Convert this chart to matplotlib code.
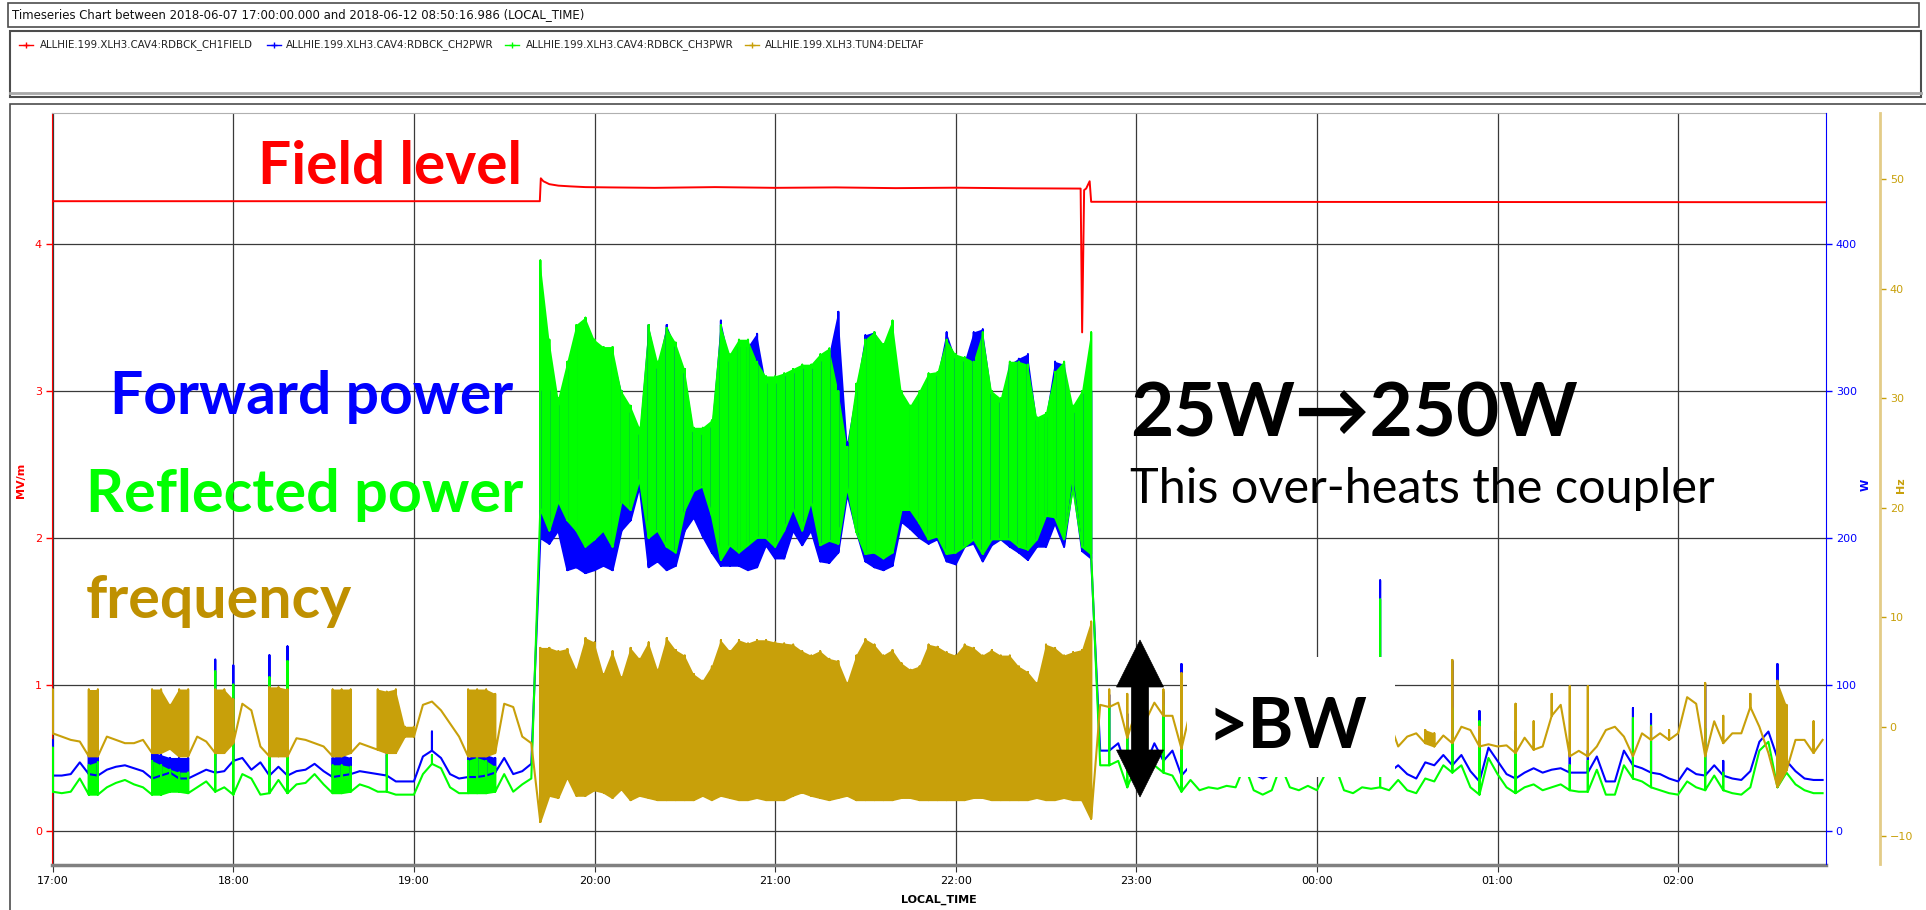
import numpy as np
import pandas as pd
import matplotlib
matplotlib.use("Agg")
import matplotlib.pyplot as plt
import matplotlib.dates as mdates
from matplotlib.patches import Rectangle, Polygon
from matplotlib.lines import Line2D
from matplotlib import font_manager

# ---------------------------------------------------------------- data
TITLE = "Timeseries Chart between 2018-06-07 17:00:00.000 and 2018-06-12 08:50:16.986 (LOCAL_TIME)"
SERIES_NAMES = ["ALLHIE.199.XLH3.CAV4:RDBCK_CH1FIELD",
                "ALLHIE.199.XLH3.CAV4:RDBCK_CH2PWR",
                "ALLHIE.199.XLH3.CAV4:RDBCK_CH3PWR",
                "ALLHIE.199.XLH3.TUN4:DELTAF"]
SAMPLE_START = "2018-06-07 17:00"
SAMPLE_STEP = "3min"

# value per 3-minute sample; a tuple (low, high) = range swept inside that sample
fwd_power_w = [
    (38, 62), 38, 39, 47, (39, 52), (38, 53), 42, 44, 45, 43,
    41, (36, 54), (38, 52), (40, 50), (36, 50), (36, 50), 39, 42, (40, 117), 41,
    (48, 113), 50, 42, 47, (38, 120), 44, (38, 126), 41, 42, 46,
    41, (37, 50), (38, 52), (39, 50), 41, 40, 39, (38, 61), 34, 34,
    34, 51, (55, 68), 50, 39, 36, (37, 50), (37, 52), (38, 52), (40, 50),
    50, 39, 41, 46, (200, 300), (196, 300), (205, 290), (178, 315), (180, 335), (176, 340),
    (178, 330), (181, 320), (178, 325), (205, 300), (212, 285), (235, 270), (180, 345), (184, 315), (178, 345), (181, 330),
    (205, 312), (214, 272), (201, 270), (190, 275), (181, 348), (181, 320), (181, 330), (178, 330), (180, 339), (195, 305),
    (186, 305), (186, 310), (205, 312), (195, 315), (205, 315), (184, 320), (183, 325), (190, 354), (230, 265), (205, 300),
    (184, 338), (180, 340), (178, 330), (181, 340), (211, 295), (206, 288), (200, 296), (196, 308), (199, 310), (184, 340),
    (182, 322), (194, 320), (196, 340), (184, 342), (195, 298), (199, 292), (194, 318), (190, 322), (185, 325), (194, 280),
    (194, 282), (210, 320), (194, 318), (237, 285), (191, 298), (186, 300), 55, (55, 93), 60, (42, 80),
    60, (45, 85), 60, (48, 95), 55, (38, 114), 45, 40, 42, 41,
    43, 42, 55, 39, 36, 39, 55, 42, 40, 43,
    40, 50, 55, 40, 38, 41, 40, (40, 171), 40, 45,
    39, 36, 47, 45, 52, (45, 116), 52, 41, (34, 82), 57,
    48, 39, (36, 68), 40, 43, 40, 42, 43, (40, 54), 40,
    (40, 55), 51, 34, 34, 55, (45, 84), 43, (40, 80), 39, 36,
    34, 43, 39, (38, 100), 45, (38, 48), 36, 35, 41, 61,
    68, (50, 114), 48, 41, 36, 35, 35,
]

refl_power_w = [
    (27, 57), 26, 27, 36, (25, 45), (25, 47), 30, 33, 35, 32,
    30, (25, 48), (25, 45), (27, 42), (27, 40), (26, 40), 30, 34, (27, 109), 30,
    (25, 100), 39, 36, 25, (26, 105), 35, (26, 116), 32, 33, 39,
    32, (26, 45), (26, 45), (27, 44), 32, 30, 27, (27, 52), 25, 25,
    25, 39, (46, 52), 43, 30, 26, (26, 48), (26, 50), (26, 48), (27, 44),
    39, 27, 32, 36, (220, 389), (205, 335), (225, 295), (212, 320), (205, 345), (194, 350),
    (199, 335), (205, 330), (194, 330), (225, 300), (219, 290), (240, 275), (200, 345), (205, 320), (194, 343), (190, 333),
    (219, 315), (232, 275), (235, 275), (215, 280), (185, 345), (195, 325), (190, 335), (195, 335), (200, 320), (200, 310),
    (194, 310), (205, 312), (220, 315), (205, 318), (225, 318), (195, 325), (198, 329), (196, 300), (235, 262), (204, 305),
    (189, 335), (190, 340), (186, 332), (190, 348), (219, 300), (219, 290), (210, 300), (199, 312), (201, 313), (189, 335),
    (190, 325), (194, 323), (199, 320), (189, 340), (199, 300), (199, 295), (199, 320), (194, 320), (192, 318), (199, 282),
    (215, 285), (214, 313), (199, 320), (234, 290), (194, 300), (189, 340), 45, (45, 86), 48, (30, 70),
    45, (35, 75), 45, (40, 86), 38, (27, 70), 35, 28, 30, 29,
    31, 30, 45, 28, 25, 28, 45, 30, 28, 31,
    28, 40, 45, 28, 26, 30, 29, (30, 158), 28, 35,
    28, 26, 36, 34, 45, (40, 84), 45, 30, (25, 75), 50,
    39, 30, (26, 62), 30, 32, 28, 30, 32, (28, 45), 27,
    (27, 48), 42, 25, 25, 45, (36, 77), 34, (30, 72), 28, 26,
    25, 34, 30, (28, 70), 38, (28, 40), 26, 25, 30, 55,
    61, (30, 77), 40, 32, 28, 26, 26,
]

delta_f_hz = [
    (-0.6, 3.4), -0.9, -1.2, -1.35, (-2.7, 3.4), (-2.7, 3.4), -0.9, -1.2, -1.5, -1.5,
    -1.2, (-2.4, 3.4), (-2.4, 3.4), (-2.0, 2.0), (-2.7, 3.4), (-2.7, 3.4), -0.9, -1.35, (-2.4, 3.4), (-2.4, 3.4),
    (-1.5, 2.5), 2.1, 1.5, -1.8, (-2.7, 3.6), (-2.7, 3.6), (-2.7, 3.4), -1.05, -1.2, -1.5,
    -1.8, (-2.7, 3.4), (-2.7, 3.4), (-2.4, 3.4), -1.5, -1.8, (-2.1, 3.4), (-2.4, 3.2), (-2.4, 3.4), (-0.9, 0.0),
    (-0.9, 0.0), 2.0, 2.3, 1.5, 0.3, -0.9, (-2.7, 3.4), (-2.7, 3.4), (-2.7, 3.4), (-2.4, 3.0),
    2.1, 1.8, -0.9, -1.5, (-8.7, 7.2), (-6.3, 7.2), (-6.5, 6.9), (-4.6, 7.1), (-6.3, 5.2), (-6.3, 8.1),
    (-5.8, 7.7), (-6.0, 4.8), (-6.5, 6.9), (-5.7, 4.5), (-6.7, 7.2), (-6.3, 6.2), (-6.5, 7.7), (-6.7, 5.2), (-6.7, 8.1), (-6.7, 7.0),
    (-6.7, 6.5), (-6.7, 4.8), (-6.3, 4.2), (-6.7, 5.5), (-6.3, 7.9), (-6.5, 6.9), (-6.7, 7.9), (-6.7, 7.6), (-6.5, 7.9), (-6.7, 7.9),
    (-6.7, 7.7), (-6.7, 7.6), (-6.3, 7.5), (-6.0, 6.9), (-6.3, 6.5), (-6.5, 6.9), (-6.7, 6.2), (-6.5, 6.0), (-6.3, 4.0), (-6.7, 6.5),
    (-6.7, 8.0), (-6.7, 7.5), (-6.7, 6.5), (-6.7, 7.0), (-6.5, 5.8), (-6.5, 5.2), (-6.7, 5.5), (-6.7, 7.5), (-6.7, 7.3), (-6.7, 6.8),
    (-6.7, 6.5), (-6.7, 7.5), (-6.5, 7.2), (-6.5, 6.5), (-6.7, 7.0), (-6.7, 6.5), (-6.7, 6.5), (-6.7, 5.5), (-6.7, 5.0), (-6.5, 4.0),
    (-6.7, 7.5), (-6.7, 7.2), (-6.5, 6.5), (-6.7, 6.8), (-6.7, 7.0), (-8.4, 9.6), 2.0, (1.8, 3.4), 2.2, (-1.0, 3.0),
    1.5, (0.5, 3.0), 2.2, (1.0, 3.4), 1.0, (-2.0, 4.9), 1.5, 1.0, 1.0, 0.8,
    1.0, 1.2, 2.0, 1.0, 0.5, 0.8, 2.0, 1.0, 0.8, 1.0,
    1.2, 2.0, 2.2, 1.0, 0.5, 0.8, 1.0, 1.0, 0.5, -1.8,
    -0.9, -0.6, (-1.5, -0.3), (-1.8, -0.6), -0.8, (-1.5, 6.1), 0.0, -0.3, (-1.8, 0.0), -1.6,
    -1.8, -1.7, (-2.4, 2.1), -1.0, (-2.1, 0.5), -1.8, (1.0, 3.0), 2.0, (-2.7, 3.7), -2.2,
    (-2.7, 3.7), -1.8, -0.3, 0.0, -0.9, -2.7, -0.6, (-1.2, 0.0), -0.6, (-1.2, -0.3),
    -0.6, 2.7, 2.1, (-2.7, 4.0), 0.5, (-1.5, 1.0), -0.6, -0.6, (1.8, 3.0), 0.0,
    -2.4, (-5.5, 4.2), (-4.0, 2.0), -1.2, -1.2, (-2.4, 0.5), -1.2,
]

field_times = ["17:00:00", "19:41:50", "19:42:10", "19:43:00", "19:45:00", "19:48:00",
               "19:52:00", "19:57:00", "20:05:00", "20:20:00", "20:40:00", "21:00:00",
               "21:20:00", "21:40:00", "22:00:00", "22:20:00", "22:41:30", "22:42:00",
               "22:42:40", "22:43:20", "22:44:30", "22:45:00", "22:45:30", "22:46:00",
               "02:49:00"]
field_mv_m = [4.294, 4.294, 4.45, 4.43, 4.41, 4.40,
              4.395, 4.39, 4.388, 4.385, 4.39, 4.385,
              4.388, 4.383, 4.386, 4.382, 4.38, 3.40,
              4.37, 4.38, 4.43, 4.29, 4.29, 4.29,
              4.287]

mv_ticks = [0, 1, 2, 3, 4]
w_ticks = [0, 100, 200, 300, 400]
hz_ticks = [-10, 0, 10, 20, 30, 40, 50]

# ---------------------------------------------------------------- styling
RED, BLUE, GREEN, TAN = "#FF0000", "#0000FF", "#00FF00", "#C8A00A"
W_PX, H_PX, DPI = 1926, 910, 100


def have(name):
    try:
        font_manager.findfont(font_manager.FontProperties(family=name),
                              fallback_to_default=False)
        return True
    except Exception:
        return False


def narrow_font():
    if have("Liberation Sans Narrow"):
        return dict(family="Liberation Sans Narrow")
    try:
        p = font_manager.findfont(font_manager.FontProperties(
            family="DejaVu Sans", stretch="condensed"))
        if "ondensed" in p:
            return dict(family="DejaVu Sans", stretch="condensed")
    except Exception:
        pass
    return dict(family="DejaVu Sans")


NARROW = narrow_font()
ANNO = "Lato" if have("Lato") else "DejaVu Sans"


def fx(px):
    return px / W_PX


def fy(py):
    return 1 - py / H_PX


def clock(s):
    t = pd.Timestamp("2018-06-07 " + s)
    if t.hour < 12:
        t += pd.Timedelta(days=1)
    return mdates.date2num(t.to_pydatetime())


def split(vals):
    lo = np.array([v[0] if isinstance(v, tuple) else v for v in vals], float)
    hi = np.array([v[1] if isinstance(v, tuple) else v for v in vals], float)
    return lo, hi


def draw_series(axx, t, vals, color, lw):
    lo, hi = split(vals)
    xs = np.repeat(t, 3)
    ys = np.column_stack([lo, hi, lo]).ravel()
    axx.plot(xs, ys, color=color, lw=lw, solid_joinstyle="round")
    axx.fill_between(t, lo, hi, where=hi > lo, color=color, lw=0)


fig = plt.figure(figsize=(W_PX / DPI, H_PX / DPI), dpi=DPI)
fig.patch.set_facecolor("white")

# window chrome
fig.add_artist(Rectangle((fx(8), fy(27)), fx(1919) - fx(8), fy(3) - fy(27),
                         transform=fig.transFigure, fill=False, ec="#4d4d4d", lw=1.2))
fig.add_artist(Rectangle((fx(10), fy(97)), fx(1921) - fx(10), fy(31) - fy(97),
                         transform=fig.transFigure, fill=False, ec="#4d4d4d", lw=1.5))
fig.add_artist(Line2D([fx(10), fx(1921)], [fy(93), fy(93)], transform=fig.transFigure,
                      color="#a8a8a8", lw=2))
fig.add_artist(Rectangle((fx(10), fy(915)), fx(1930) - fx(10), fy(104) - fy(915),
                         transform=fig.transFigure, fill=False, ec="#4d4d4d", lw=1.2))

renderer = fig.canvas.get_renderer()


def fit_text(s, x_left, y, target_w, va="baseline", **kw):
    t = fig.text(fx(x_left), fy(y), s, ha="left", va=va, **kw)
    w = t.get_window_extent(renderer).width
    t.set_fontsize(t.get_fontsize() * target_w / w)
    return t


fit_text(TITLE, 12, 15, 571, va="center", fontsize=10, color="#111111", **NARROW)

# legend strip
leg_marker_x = [26, 274, 512, 752]
leg_text_x = [40, 286, 526, 765]
leg_cols = [RED, BLUE, GREEN, TAN]
t0 = fit_text(SERIES_NAMES[0], leg_text_x[0], 45, 214, va="center", fontsize=7,
              family="DejaVu Sans", color="#222222")
leg_fs = t0.get_fontsize()
for k in range(4):
    mx = leg_marker_x[k]
    fig.add_artist(Line2D([fx(mx - 7), fx(mx), fx(mx + 7)], [fy(45)] * 3,
                          transform=fig.transFigure, color=leg_cols[k], lw=1,
                          marker="+", markersize=5, markevery=[1]))
    if k > 0:
        fig.text(fx(leg_text_x[k]), fy(45), SERIES_NAMES[k], va="center", ha="left",
                 fontsize=leg_fs, family="DejaVu Sans", color="#222222")

# ---------------------------------------------------------------- axes
L, R, T, B = 51.6, 1826, 113, 864.5
ax = fig.add_axes([fx(L), fy(B), fx(R) - fx(L), fy(T) - fy(B)])
ax_w = ax.twinx()
ax_hz = ax.twinx()

sample_t = mdates.date2num(pd.date_range(SAMPLE_START, periods=len(fwd_power_w),
                                         freq=SAMPLE_STEP).to_pydatetime())
field_t = np.array([clock(s) for s in field_times])

ax.plot(field_t, field_mv_m, color=RED, lw=1.4, zorder=3)
draw_series(ax_w, sample_t, fwd_power_w, BLUE, 1.5)
draw_series(ax_w, sample_t, refl_power_w, GREEN, 1.5)
draw_series(ax_hz, sample_t, delta_f_hz, TAN, 1.5)

ax.set_xlim(clock("16:59:38"), clock("02:49:08"))
ax.set_ylim(-0.226, 4.895)
ax_w.set_ylim(-22.6, 489.5)
ax_hz.set_ylim(-12.58, 56.05)

ax.xaxis.set_major_locator(mdates.HourLocator())
ax.xaxis.set_major_formatter(mdates.DateFormatter("%H:%M"))
ax.set_yticks(mv_ticks)
ax_w.set_yticks(w_ticks)
ax_hz.set_yticks(hz_ticks)

ax.grid(True, color="#3a3a3a", lw=0.9)
ax.set_axisbelow(True)

ax.tick_params(axis="y", colors=RED, length=4, width=1, labelsize=8, pad=3)
ax.tick_params(axis="x", length=5, color="#333333", labelsize=8, pad=3.5,
               labelcolor="black")
ax_w.tick_params(axis="y", colors=BLUE, length=4, width=1, labelsize=8, pad=3)
ax_hz.tick_params(axis="y", colors=TAN, length=4, width=1, labelsize=8, pad=3)

ax.spines["left"].set_color(RED)
ax.spines["right"].set_visible(False)
ax.spines["top"].set_color("#b0b0b0")
ax.spines["bottom"].set_color("#808080")
ax.spines["bottom"].set_linewidth(2.5)
for a in (ax_w, ax_hz):
    for s in ("top", "bottom", "left"):
        a.spines[s].set_visible(False)
ax_w.spines["right"].set_color(BLUE)
ax_hz.spines["right"].set_position(("axes", (1880 - L) / (R - L)))
ax_hz.spines["right"].set_color("#E3CC88")
ax_hz.spines["right"].set_linewidth(2)

fig.text(fx(21), fy(480), "MV/m", rotation=90, color=RED, fontsize=8,
         fontweight="bold", ha="center", va="center")
fig.text(fx(1866), fy(485), "W", rotation=90, color=BLUE, fontsize=8,
         fontweight="bold", ha="center", va="center")
fig.text(fx(1901), fy(485), "Hz", rotation=90, color=TAN, fontsize=8,
         fontweight="bold", ha="center", va="center")
fig.text(fx(939), fy(900), "LOCAL_TIME", color="black", fontsize=8,
         fontweight="bold", ha="center", va="center")

# ---------------------------------------------------------------- annotations
fam = [ANNO, "DejaVu Sans"]
fit_text("Field level", 258, 184, 264, family=fam, fontweight="bold", color=RED,
         fontsize=40, zorder=6)
fit_text("Forward power", 110, 414, 403, family=fam, fontweight="bold", color=BLUE,
         fontsize=40, zorder=6)
fit_text("Reflected power", 86, 512, 436, family=fam, fontweight="bold", color=GREEN,
         fontsize=40, zorder=6)
fit_text("frequency", 86, 618, 266, family=fam, fontweight="bold", color="#BF9000",
         fontsize=40, zorder=6)
fit_text("25W\u2192250W", 1130, 436, 448, family=fam, fontweight="bold",
         color="black", fontsize=60, zorder=6)
fit_text("This over-heats the coupler", 1130, 503, 587, family=fam,
         color="black", fontsize=32, zorder=6)

fig.add_artist(Rectangle((fx(1187), fy(777)), fx(1395) - fx(1187), fy(657) - fy(777),
                         transform=fig.transFigure, fc="white", ec="none", zorder=5))
fit_text(">BW", 1207, 748, 160, family=fam, fontweight="bold", color="black",
         fontsize=55, zorder=6)

cx, top, bot, hh, hw, sw = 1140, 640, 797, 47, 23.5, 8.5
arrow_px = [(cx, top), (cx + hw, top + hh), (cx + sw, top + hh), (cx + sw, bot - hh),
            (cx + hw, bot - hh), (cx, bot), (cx - hw, bot - hh), (cx - sw, bot - hh),
            (cx - sw, top + hh), (cx - hw, top + hh)]
fig.add_artist(Polygon([(fx(x), fy(y)) for x, y in arrow_px], closed=True,
                       transform=fig.transFigure, fc="black", ec="black", lw=0.5,
                       zorder=6))

fig.savefig("out.png", dpi=DPI)
